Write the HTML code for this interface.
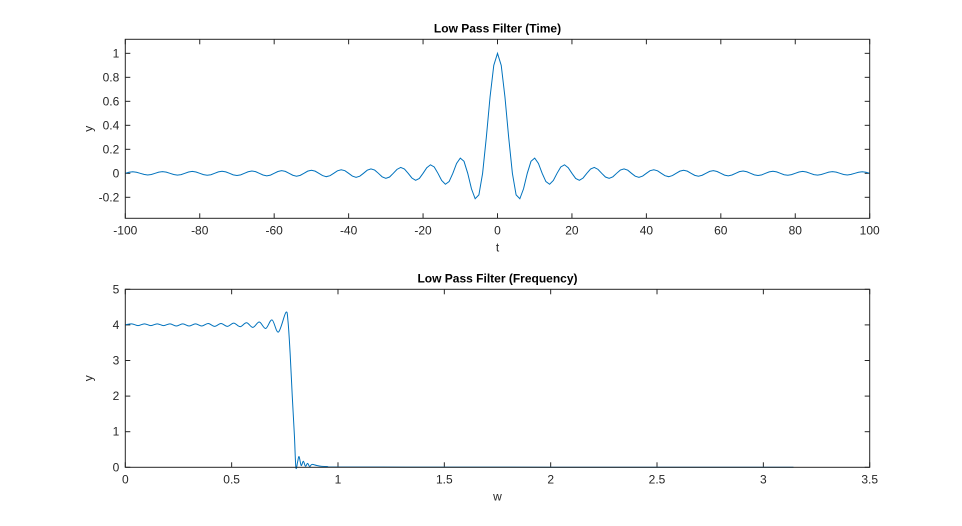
<!DOCTYPE html>
<html><head><meta charset="utf-8"><style>
html,body{margin:0;padding:0;background:#fff;}
svg{display:block;font-family:"Liberation Sans",Arial,sans-serif;}
</style></head><body>
<svg id="fig" width="962" height="526" viewBox="0 0 962 526"></svg>
<script>
// Time-domain data (t = 1..100, positive half; negative half symmetric)
const timeHalf = [0.900,0.637,0.300,0,-0.180,-0.212,-0.129,0,
0.100,0.127,0.082,0,-0.069,-0.091,-0.060,0,
0.053,0.071,0.047,0,-0.043,-0.058,-0.039,0,
0.036,0.049,0.033,0,-0.031,-0.042,-0.029,0,
0.027,0.037,0.026,0,-0.024,-0.034,-0.023,0,
0.022,0.030,0.021,0,-0.020,-0.028,-0.019,0,
0.018,0.025,0.018,0,-0.017,-0.024,-0.016,0,
0.016,0.022,0.015,0,-0.015,-0.021,-0.014,0,
0.014,0.019,0.013,0,-0.013,-0.018,-0.013,0,
0.012,0.017,0.012,0,-0.012,-0.016,-0.011,0,
0.011,0.016,0.011,0,-0.011,-0.015,-0.010,0,
0.010,0.014,0.010,0,-0.010,-0.014,-0.009,0,
0.009,0.013,0.009,0];
const timePeak = 1.0;
const timeXTicks = [-100,-80,-60,-40,-20,0,20,40,60,80,100];
const timeYTicks = [-0.2,0,0.2,0.4,0.6,0.8,1];

// Frequency-domain data
const freqW = [0,0.03,0.06,0.09,0.12,0.15,0.18,0.21,0.24,0.27,0.30,0.33,0.36,0.39,0.42,0.45,0.48,0.51,0.54,0.57,0.60,0.63,0.66,0.69,0.72,
0.755,0.765,0.775,0.785,0.795,0.802,0.81,0.817,0.827,0.837,0.847,0.857,0.867,0.877,
0.90,0.92,0.95,1.0,1.5,2.0,2.5,3.1416];
const freqY = [4.0,4.03,3.98,4.03,3.98,4.03,3.98,4.03,3.97,4.03,3.97,4.03,3.97,4.04,3.96,4.04,3.96,4.05,3.95,4.06,3.93,4.08,3.9,4.14,3.8,
4.35,4.1,3.2,2.0,0.9,0.0,0.15,0.3,0.05,0.17,0.03,0.11,0.02,0.08,
0.05,0.03,0.02,0.01,0.005,0.003,0.002,0];
const freqXTicks = [0,0.5,1,1.5,2,2.5,3,3.5];
const freqXLabels = ['0','0.5','1','1.5','2','2.5','3','3.5'];
const freqYTicks = [0,1,2,3,4,5];

const timeT = [], timeY = [];
for (let i = timeHalf.length - 1; i >= 0; i--) { timeT.push(-(i + 1)); timeY.push(timeHalf[i]); }
timeT.push(0); timeY.push(timePeak);
for (let i = 0; i < timeHalf.length; i++) { timeT.push(i + 1); timeY.push(timeHalf[i]); }

const NS = 'http://www.w3.org/2000/svg';
const svg = document.getElementById('fig');
function mk(tag, attrs, parent) {
  const e = document.createElementNS(NS, tag);
  for (const k in attrs) e.setAttribute(k, attrs[k]);
  (parent || svg).appendChild(e);
  return e;
}

function drawAxes(cfg) {
  const g = mk('g', {});
  
  
  const L = 125.3, R = 869.7, T = cfg.top, B = cfg.bottom;
  const sx = v => L + (v - cfg.xmin) / (cfg.xmax - cfg.xmin) * (R - L);
  const sy = v => B - (v - cfg.ymin) / (cfg.ymax - cfg.ymin) * (B - T);
  const col = '#262626';
  const tk = 5;
  cfg.xticks.forEach((v, i) => {
    const x = sx(v);
    mk('line', {x1: x, x2: x, y1: B, y2: B - tk, stroke: col, 'stroke-width': 1}, g);
    mk('line', {x1: x, x2: x, y1: T, y2: T + tk, stroke: col, 'stroke-width': 1}, g);
    const t = mk('text', {x: x, y: B + 16, 'text-anchor': 'middle', 'font-size': 12, fill: col}, g);
    t.textContent = cfg.xlabels ? cfg.xlabels[i] : String(v);
    
    
  });
  cfg.yticks.forEach(v => {
    const y = sy(v);
    mk('line', {x1: L, x2: L + tk, y1: y, y2: y, stroke: col, 'stroke-width': 1}, g);
    mk('line', {x1: R, x2: R - tk, y1: y, y2: y, stroke: col, 'stroke-width': 1}, g);
    const t = mk('text', {x: L - 6, y: y + 4, 'text-anchor': 'end', 'font-size': 12, fill: col}, g);
    t.textContent = String(v);
    
    
  });
  const P = cfg.xs.map((v, i) => [sx(v), sy(cfg.ys[i])]);
  let d = 'M' + P[0][0].toFixed(2) + ',' + P[0][1].toFixed(2);
  if (cfg.smooth) {
    for (let i = 0; i < P.length - 1; i++) {
      const p0 = P[Math.max(0, i - 1)], p1 = P[i], p2 = P[i + 1], p3 = P[Math.min(P.length - 1, i + 2)];
      const c1 = [p1[0] + (p2[0] - p0[0]) / 6, p1[1] + (p2[1] - p0[1]) / 6];
      const c2 = [p2[0] - (p3[0] - p1[0]) / 6, p2[1] - (p3[1] - p1[1]) / 6];
      d += 'C' + c1[0].toFixed(2) + ',' + c1[1].toFixed(2) + ' ' + c2[0].toFixed(2) + ',' + c2[1].toFixed(2) + ' ' + p2[0].toFixed(2) + ',' + p2[1].toFixed(2);
    }
  } else {
    for (let i = 1; i < P.length; i++) d += 'L' + P[i][0].toFixed(2) + ',' + P[i][1].toFixed(2);
  }
  const p = mk('path', {d: d, fill: 'none', stroke: '#0072bd', 'stroke-width': 1}, g);
  
  
  mk('rect', {x: L, y: T, width: R - L, height: B - T, fill: 'none', stroke: col, 'stroke-width': 1}, g);
  const title = mk('text', {x: (L + R) / 2, y: T - 7, 'text-anchor': 'middle', 'font-size': 12, 'font-weight': 'bold', fill: '#000'}, g);
  title.textContent = cfg.title;
  
  
  const xl = mk('text', {x: (L + R) / 2, y: B + 33, 'text-anchor': 'middle', 'font-size': 12, fill: col}, g);
  xl.textContent = cfg.xlabel;
  
  
  const yx = L - 33, yy = (T + B) / 2;
  const yl = mk('text', {x: yx, y: yy, 'text-anchor': 'middle', 'font-size': 12, fill: col, transform: 'rotate(-90 ' + yx + ' ' + yy + ')'}, g);
  yl.textContent = 'y';
  
  
}

drawAxes({name: 'time-plot', top: 39.3, bottom: 218.3, xmin: -100, xmax: 100, ymin: -0.375, ymax: 1.117,
  xticks: timeXTicks, yticks: timeYTicks, xs: timeT, ys: timeY, title: 'Low Pass Filter (Time)', xlabel: 't', smooth: false});
drawAxes({name: 'frequency-plot', top: 289.3, bottom: 467.3, xmin: 0, xmax: 3.5, ymin: 0, ymax: 5,
  xticks: freqXTicks, xlabels: freqXLabels, yticks: freqYTicks, xs: freqW, ys: freqY, title: 'Low Pass Filter (Frequency)', xlabel: 'w', smooth: true});
</script>
</body></html>
